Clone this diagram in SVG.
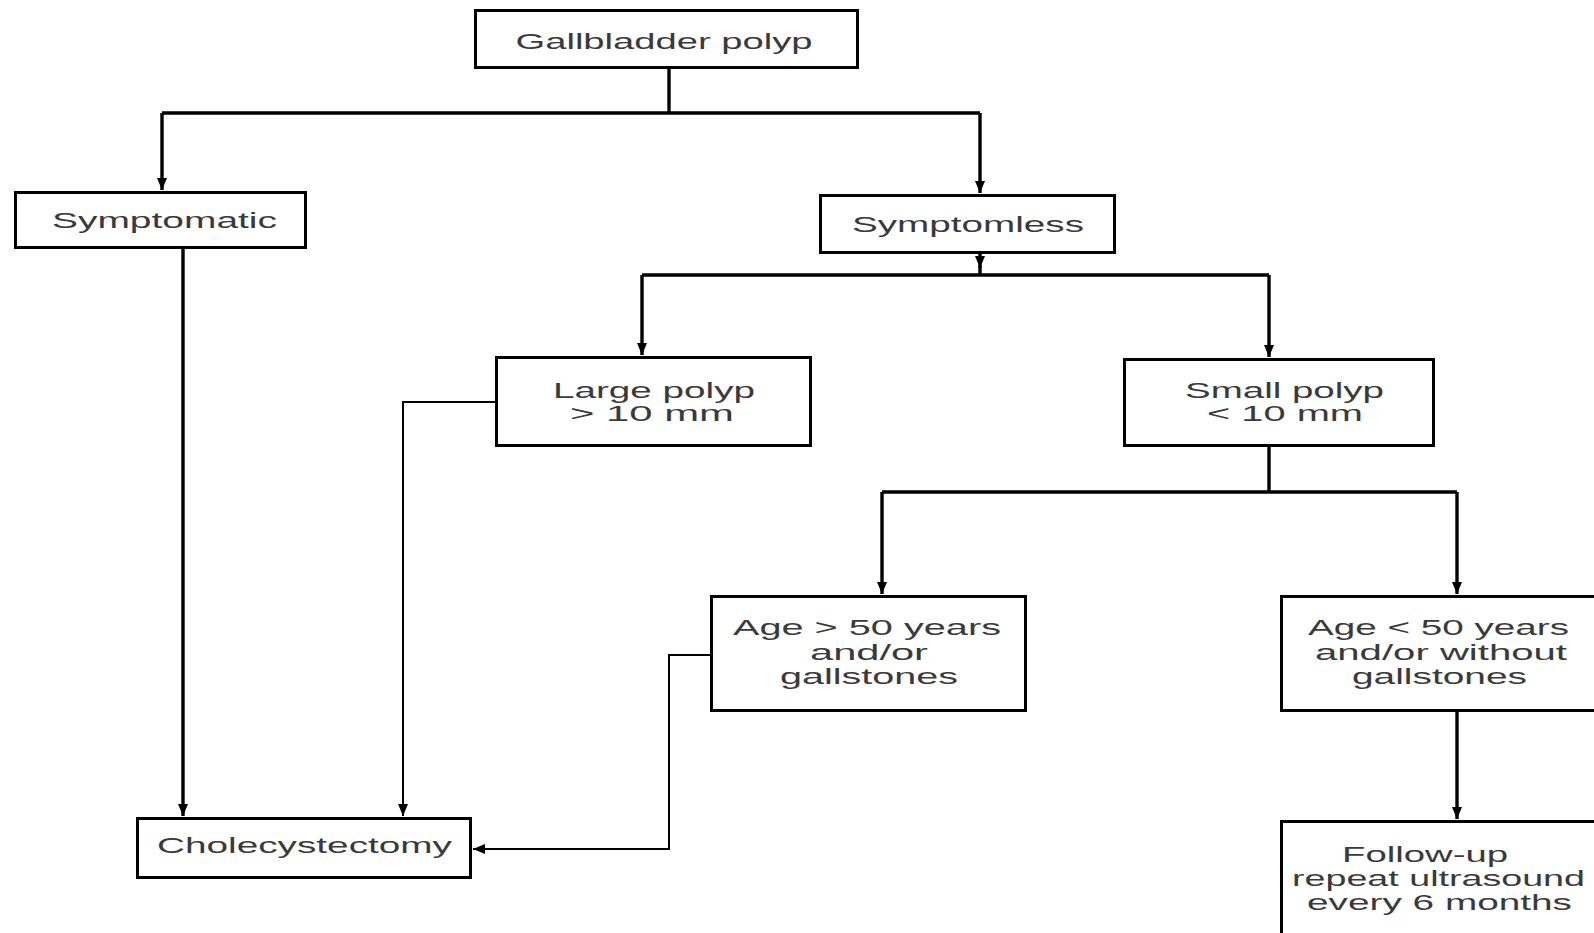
<svg xmlns="http://www.w3.org/2000/svg" width="1594" height="933" viewBox="0 0 1594 933">
<style>
.box{fill:#fff;stroke:#000;stroke-width:3}
.t{font-family:"Liberation Sans",Arial,sans-serif;font-size:22px;fill:#3a3a3a;text-anchor:middle}
.c{fill:none;stroke:#000;stroke-width:3.4}
.th{fill:none;stroke:#000;stroke-width:2}
</style>
<defs>
<marker id="ah" markerUnits="userSpaceOnUse" markerWidth="12" markerHeight="10" viewBox="0 0 12 10" refX="12" refY="5" orient="auto">
<path d="M0,0 L12,5 L0,10 Z" fill="#000"/>
</marker>
</defs>
<rect width="1594" height="933" fill="#fff"/>
<g id="connectors">
<path class="c" d="M669 69 V113"/>
<path class="c" d="M162 113 H980"/>
<path class="c" d="M162 113 V190" marker-end="url(#ah)"/>
<path class="c" d="M980 113 V193" marker-end="url(#ah)"/>
<path class="c" d="M183 249 V816" marker-end="url(#ah)"/>
<path class="c" d="M980 254 V268" marker-end="url(#ah)"/>
<path class="c" d="M980 266 V275"/>
<path class="c" d="M642 275 H1269"/>
<path class="c" d="M642 275 V355" marker-end="url(#ah)"/>
<path class="c" d="M1269 275 V357" marker-end="url(#ah)"/>
<path class="c" d="M1269 447 V492"/>
<path class="c" d="M882 492 H1457"/>
<path class="c" d="M882 492 V594" marker-end="url(#ah)"/>
<path class="c" d="M1457 492 V594" marker-end="url(#ah)"/>
<path class="c" d="M1457 712 V819" marker-end="url(#ah)"/>
<path class="th" d="M502 402 H403 V816" marker-end="url(#ah)"/>
<path class="th" d="M710 655 H669 V849 H473" marker-end="url(#ah)"/>
</g>
<g id="gallbladder">
<rect class="box" x="475.5" y="10.5" width="382" height="57"/>
<text class="t" x="664" y="49" textLength="297" lengthAdjust="spacingAndGlyphs">Gallbladder polyp</text>
</g>
<g id="symptomatic">
<rect class="box" x="15.5" y="192.5" width="290" height="55"/>
<text class="t" x="164.5" y="228" textLength="225" lengthAdjust="spacingAndGlyphs">Symptomatic</text>
</g>
<g id="symptomless">
<rect class="box" x="820.5" y="195.5" width="294" height="57"/>
<text class="t" x="968" y="232" textLength="232" lengthAdjust="spacingAndGlyphs">Symptomless</text>
</g>
<g id="large">
<rect class="box" x="496.5" y="357.5" width="314" height="88"/>
<text class="t" x="654" y="398" textLength="202" lengthAdjust="spacingAndGlyphs">Large polyp</text>
<text class="t" x="652" y="421" textLength="164" lengthAdjust="spacingAndGlyphs">&gt; 10 mm</text>
</g>
<g id="small">
<rect class="box" x="1124.5" y="359.5" width="309" height="86"/>
<text class="t" x="1284.5" y="398" textLength="199" lengthAdjust="spacingAndGlyphs">Small polyp</text>
<text class="t" x="1285" y="421" textLength="156" lengthAdjust="spacingAndGlyphs">&lt; 10 mm</text>
</g>
<g id="age-over">
<rect class="box" x="711.5" y="596.5" width="314" height="114"/>
<text class="t" x="867" y="635" textLength="268" lengthAdjust="spacingAndGlyphs">Age &gt; 50 years</text>
<text class="t" x="869" y="660" textLength="118" lengthAdjust="spacingAndGlyphs">and/or</text>
<text class="t" x="869" y="684" textLength="178" lengthAdjust="spacingAndGlyphs">gallstones</text>
</g>
<g id="age-under">
<rect class="box" x="1281.5" y="596.5" width="330" height="114"/>
<text class="t" x="1438.5" y="635" textLength="261" lengthAdjust="spacingAndGlyphs">Age &lt; 50 years</text>
<text class="t" x="1441" y="660" textLength="252" lengthAdjust="spacingAndGlyphs">and/or without</text>
<text class="t" x="1439.5" y="684" textLength="175" lengthAdjust="spacingAndGlyphs">gallstones</text>
</g>
<g id="cholecystectomy">
<rect class="box" x="137.5" y="818.5" width="333" height="59"/>
<text class="t" x="304.5" y="853" textLength="295" lengthAdjust="spacingAndGlyphs">Cholecystectomy</text>
</g>
<g id="followup">
<rect class="box" x="1281.5" y="821.5" width="330" height="130"/>
<text class="t" x="1425" y="862" textLength="166" lengthAdjust="spacingAndGlyphs">Follow-up</text>
<text class="t" x="1438.5" y="886" textLength="293" lengthAdjust="spacingAndGlyphs">repeat ultrasound</text>
<text class="t" x="1439.5" y="910" textLength="265" lengthAdjust="spacingAndGlyphs">every 6 months</text>
</g>
</svg>
